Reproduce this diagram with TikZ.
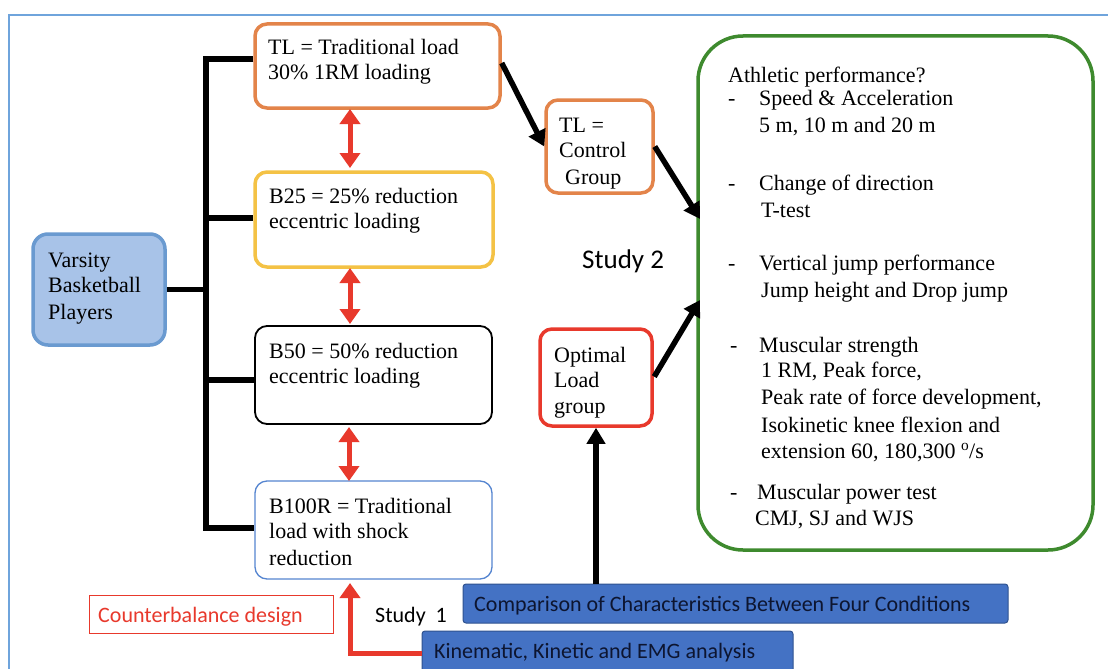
\documentclass[tikz,border=0pt]{standalone}
\usepackage{fontspec}
\setmainfont{Liberation Serif}
\newfontfamily\calfont{Carlito}
\usetikzlibrary{arrows.meta}
\definecolor{frameblue}{HTML}{6FA4DC}
\definecolor{orangeb}{HTML}{E3844A}
\definecolor{yellowb}{HTML}{F4C245}
\definecolor{redb}{HTML}{E8392C}
\definecolor{greenb}{HTML}{3E8A2E}
\definecolor{blueb}{HTML}{5585D0}
\definecolor{varfill}{HTML}{A8C3E8}
\definecolor{varline}{HTML}{6A9AD0}
\definecolor{barfill}{HTML}{4472C4}
\definecolor{barline}{HTML}{2F528F}
\definecolor{bartext}{HTML}{0D1530}
\begin{document}
\begin{tikzpicture}[x=1pt,y=-1pt,
  box/.style={draw, rounded corners=12pt, line width=3.5pt, inner sep=0pt},
  txt/.style={anchor=base west, inner sep=0pt, font=\fontsize{22}{26}\selectfont},
  stxt/.style={anchor=base west, inner sep=0pt, font=\calfont\fontsize{22}{26}\selectfont},
  tree/.style={line width=5.5pt, draw=black},
  blk/.style={line width=5.5pt, draw=black, -{Triangle[length=16pt,width=18pt]}},
  dbl/.style={line width=5pt, draw=redb, {Triangle[length=15pt,width=20pt]}-{Triangle[length=15pt,width=20pt]}},
  redl/.style={line width=5pt, draw=redb, -{Triangle[length=15pt,width=20pt]}},
  bar/.style={draw=barline, fill=barfill, line width=1pt, rounded corners=3pt, inner sep=0pt}
]
\useasboundingbox (0,0) rectangle (1108,669);
\clip (0,0) rectangle (1108,669);
\fill[white] (0,0) rectangle (1108,669);

% outer frame
\coordinate (fa) at (9,680);
\coordinate (fb) at (9,15);
\coordinate (fc) at (1120,15);
\draw[frameblue, line width=2pt] (fa) -- (fb) -- (fc);

% boxes
\node[box, draw=varline, fill=varfill, rounded corners=15pt, minimum width=132pt, minimum height=111pt] (var) at (99,289.5) {};
\node[box, draw=orangeb, minimum width=245pt, minimum height=84pt] (tl) at (377.5,66) {};
\node[box, draw=yellowb, minimum width=238pt, minimum height=95pt] (b25) at (374,219.5) {};
\node[box, draw=black, line width=1.8pt, minimum width=237pt, minimum height=98pt] (b50) at (373.5,375) {};
\node[box, draw=blueb, line width=1.3pt, minimum width=237pt, minimum height=98pt] (b100) at (373.5,530) {};
\node[box, draw=orangeb, minimum width=107pt, minimum height=93pt] (ctl) at (599.5,146.5) {};
\node[box, draw=redb, minimum width=112pt, minimum height=97pt] (opt) at (596,377.5) {};
\node[box, draw=greenb, line width=3.5pt, rounded corners=45pt, minimum width=395pt, minimum height=514pt] (grn) at (895.5,293) {};
\node[draw=redb, line width=0.8pt, inner sep=0pt, minimum width=244pt, minimum height=38pt] (cb) at (211,614) {};
\node[bar, minimum width=545pt, minimum height=39pt] (cmp) at (735.5,603.5) {};
\node[bar, minimum width=371pt, minimum height=45pt] (kin) at (607.5,653.5) {};

% tree
\coordinate (j1) at (206,59);
\coordinate (j4) at (206,528);
\coordinate (j2) at (206,218);
\coordinate (j3) at (206,380);
\draw[tree] (j1 -| tl.west) -- (j1) -- (j4) -- (j4 -| b100.west);
\draw[tree] (j2) -- (j2 -| b25.west);
\draw[tree] (j3) -- (j3 -| b50.west);
\draw[tree] (var.east) -- (var.east -| j1);

% red double arrows
\coordinate (r1a) at (350,109);
\coordinate (r1b) at (350,168);
\coordinate (r2a) at (350,268);
\coordinate (r2b) at (350,324);
\coordinate (r3a) at (349,427);
\coordinate (r3b) at (349,481);
\draw[dbl] (r1a) -- (r1b);
\draw[dbl] (r2a) -- (r2b);
\draw[dbl] (r3a) -- (r3b);

% black arrows
\coordinate (gin1) at (700,219);
\coordinate (gin2) at (700,300);
\draw[blk] ([yshift=3pt]tl.east) -- (ctl.west);
\draw[blk] (ctl.east) -- (gin1);
\draw[blk, shorten <=1pt] (opt.east) -- (gin2);
\draw[blk] (cmp.north -| opt.south) -- (opt.south);

% red L arrow
\coordinate (rtip) at (350,583);
\draw[redl] (kin.west) -| (rtip);

% texts in boxes
\node[txt] (v1) at (48,267) {Varsity};
\node[txt] (v2) at (48,292) {Basketball};
\node[txt] (v3) at (48,319) {Players};
\node[txt] (t1) at (268,55) {TL = Traditional load};
\node[txt] (t2) at (268,80) {30\% 1RM loading};
\node[txt] (b25a) at (269,203) {B25 = 25\% reduction};
\node[txt] (b25b) at (269,228) {eccentric loading};
\node[txt] (b50a) at (269,358) {B50 = 50\% reduction};
\node[txt] (b50b) at (269,383) {eccentric loading};
\node[txt] (b1a) at (269,513) {B100R = Traditional};
\node[txt] (b1b) at (269,538) {load with shock};
\node[txt] (b1c) at (269,565) {reduction};
\node[txt] (c1) at (559,132) {TL =};
\node[txt] (c2) at (559,157) {Control};
\node[txt] (c3) at (565,184) {Group};
\node[txt] (o1) at (554,362) {Optimal};
\node[txt] (o2) at (554,387) {Load};
\node[txt] (o3) at (554,413) {group};

% green box texts
\node[txt] (g0) at (728,82) {Athletic performance?};
\node[txt] (d1) at (728,105) {-};
\node[txt] (g1) at (759,105) {Speed \& Acceleration};
\node[txt] (g2) at (759,132) {5 m, 10 m and 20 m};
\node[txt] (d2) at (728,190) {-};
\node[txt] (g3) at (759,190) {Change of direction};
\node[txt] (g4) at (761,217) {T-test};
\node[txt] (d3) at (728,270) {-};
\node[txt] (g5) at (759,270) {Vertical jump performance};
\node[txt] (g6) at (761,297) {Jump height and Drop jump};
\node[txt] (d4) at (730,352) {-};
\node[txt] (g7) at (759,352) {Muscular strength};
\node[txt] (g8) at (761,377) {1 RM, Peak force,};
\node[txt] (g9) at (761,404) {Peak rate of force development,};
\node[txt] (g10) at (761,432) {Isokinetic knee flexion and};
\node[txt] (g11) at (761,458) {extension 60, 180,300 \textsuperscript{o}/s};
\node[txt] (d5) at (730,499) {-};
\node[txt] (g12) at (757,499) {Muscular power test};
\node[txt] (g13) at (755,525) {CMJ, SJ and WJS};

% sans labels
\node[anchor=base west, inner sep=0pt, font=\calfont\fontsize{27}{32}\selectfont] (s2) at (582,268) {Study 2};
\node[stxt] (s1) at (375,622) {Study\hspace{0.45em}1};
\node[stxt, text=redb] (cbt) at (98,622) {Counterbalance design};
\node[stxt, text=bartext] (cmpt) at (474,611) {Comparison of Characteristics Between Four Conditions};
\node[stxt, text=bartext] (kint) at (434,658) {Kinematic, Kinetic and EMG analysis};
\end{tikzpicture}
\end{document}
